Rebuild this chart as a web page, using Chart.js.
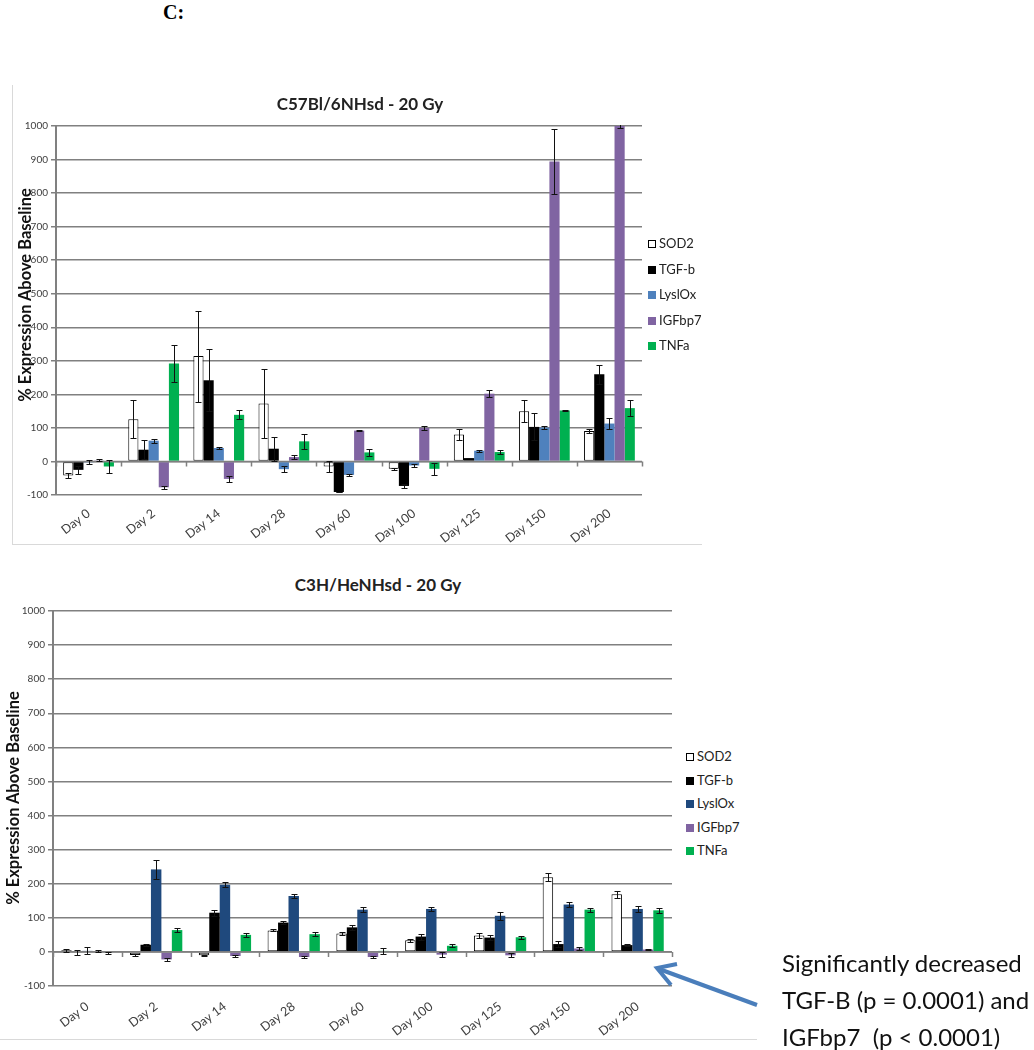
<!DOCTYPE html>
<html lang="en">
<head>
<meta charset="UTF-8">
<title>% Expression Above Baseline - 20 Gy</title>
<script src="https://cdn.jsdelivr.net/npm/chart.js"></script>
<style>
    body {
        margin: 0;
        width: 1034px;
        height: 1050px;
        position: relative;
        overflow: hidden;
        background: #fff;
        font-family: Lato, "Open Sans", sans-serif;
    }
    .abs { position: absolute; }
    #panel-label {
        left: 163px;
        top: 1px;
        font-family: "Liberation Serif", serif;
        font-weight: bold;
        font-size: 20px;
    }
    .frame-v { background: #d9d9d9; width: 1px; }
    .frame-h { background: #d9d9d9; height: 1px; }
    .chart-title {
        width: 340px;
        text-align: center;
        font-weight: bold;
        font-size: 17px;
        line-height: 20px;
        color: #222;
    }
    .y-title {
        white-space: nowrap;
        font-weight: bold;
        font-size: 16.5px;
        color: #111;
        transform: translate(-50%, -50%) rotate(-90deg);
    }
    .legend div {
        font-size: 13px;
        color: #222;
        white-space: nowrap;
    }
    .legend span {
        display: inline-block;
        width: 8px;
        height: 8px;
        margin-right: 3px;
        box-sizing: border-box;
    }
    #note {
        left: 782px;
        top: 944px;
        font-size: 24px;
        line-height: 37px;
        color: #111;
        white-space: nowrap;
    }
</style>
</head>
<body>
    <div id="panel-label" class="abs">C:</div>

    <!-- top chart -->
    <canvas id="c57Chart" class="abs" width="668" height="470" style="left:12px; top:84px;"></canvas>
    <div class="abs frame-v" style="left:12px; top:85px; height:460px;"></div>
    <div class="abs frame-h" style="left:12px; top:544px; width:690px;"></div>
    <div class="abs chart-title" style="left:190px; top:94px;">C57Bl/6NHsd - 20 Gy</div>
    <div class="abs y-title" style="left:25px; top:295px;">% Expression Above Baseline</div>
    <div id="c57Legend" class="abs legend" style="left:648px; top:231px;"></div>

    <!-- bottom chart -->
    <canvas id="c3hChart" class="abs" width="680" height="450" style="left:0px; top:600px;"></canvas>
    <div class="abs frame-h" style="left:0px; top:1039px; width:757px;"></div>
    <div class="abs chart-title" style="left:208px; top:575px;">C3H/HeNHsd - 20 Gy</div>
    <div class="abs y-title" style="left:13px; top:798px;">% Expression Above Baseline</div>
    <div id="c3hLegend" class="abs legend" style="left:686px; top:745px;"></div>

    <svg class="abs" width="1034" height="1050" style="left:0; top:0; pointer-events:none;">
        <line x1="757" y1="1005" x2="659" y2="969" stroke="#4a7ebb" stroke-width="4"/>
        <polyline points="677,964 657,968 671,985" fill="none" stroke="#4a7ebb" stroke-width="4"/>
    </svg>
    <div id="note" class="abs">Significantly decreased<br>TGF-B (p = 0.0001) and<br>IGFbp7&nbsp; (p &lt; 0.0001)</div>

    <script>
        // categories and series
        const days = ['Day 0', 'Day 2', 'Day 14', 'Day 28', 'Day 60', 'Day 100', 'Day 125', 'Day 150', 'Day 200'];
        const seriesNames = ['SOD2', 'TGF-b', 'LyslOx', 'IGFbp7', 'TNFa'];

        // C57Bl/6NHsd - values and error bars
        const c57Sod2 = [-42, 126, 314, 173, -15, -22, 80, 150, 91];
        const c57Sod2Err = [8, 56, 136, 103, 15, 3, 17, 32, 5];
        const c57Tgfb = [-25, 35, 242, 38, -91, -73, 10, 103, 260];
        const c57TgfbErr = [12, 28, 93, 36, 1, 5, 1, 40, 28];
        const c57Lysl = [-3, 62, 40, -23, -40, -12, 32, 101, 113];
        const c57LyslErr = [6, 6, 2, 8, 2, 4, 3, 5, 17];
        const c57Igf = [3, -77, -52, 13, 92, 100, 202, 894, 1000];
        const c57IgfErr = [3, 5, 8, 5, 2, 5, 11, 97, 5];
        const c57Tnf = [-15, 292, 139, 60, 27, -22, 28, 152, 159];
        const c57TnfErr = [18, 55, 13, 23, 10, 17, 6, 2, 23];

        // C3H/HeNHsd - values and error bars
        const c3hSod2 = [5, -9, -10, 63, 54, 34, 48, 219, 169];
        const c3hSod2Err = [5, 2, 1, 3, 5, 4, 8, 12, 10];
        const c3hTgfb = [-2, 21, 115, 86, 72, 45, 42, 23, 20];
        const c3hTgfbErr = [8, 3, 9, 5, 7, 9, 7, 8, 3];
        const c3hLysl = [3, 242, 197, 164, 124, 126, 106, 139, 126];
        const c3hLyslErr = [10, 28, 7, 5, 7, 7, 12, 6, 9];
        const c3hIgf = [2, -22, -12, -15, -15, -8, -10, 10, 7];
        const c3hIgfErr = [3, 4, 4, 4, 4, 7, 6, 4, 2];
        const c3hTnf = [-2, 64, 50, 52, 3, 18, 43, 124, 122];
        const c3hTnfErr = [3, 7, 5, 5, 8, 5, 5, 6, 8];

        const yMin = -100, yMax = 1000, yStep = 100;

        const c57Colors = ['#ffffff', '#000000', '#4f81bd', '#8064a2', '#00b050'];
        const c3hColors = ['#ffffff', '#000000', '#1f497d', '#8064a2', '#00b050'];

        const gridColor = '#808080';

        // zero line with tick marks between the categories (Excel style axis crossing at 0)
        const zeroAxis = {
            id: 'zeroAxis',
            afterDatasetsDraw(chart) {
                const ctx = chart.ctx;
                const x = chart.scales.x, y = chart.scales.y;
                const y0 = y.getPixelForValue(0);
                const step = (x.right - x.left) / chart.data.labels.length;
                ctx.save();
                ctx.strokeStyle = gridColor;
                ctx.lineWidth = 1.5;
                ctx.beginPath();
                ctx.moveTo(x.left, y0);
                ctx.lineTo(x.right, y0);
                for (let i = 0; i <= chart.data.labels.length; i++) {
                    const px = Math.round(x.left + i * step) + 0.5;
                    ctx.moveTo(px, y0);
                    ctx.lineTo(px, y0 + 5);
                }
                ctx.stroke();
                ctx.restore();
            }
        };

        // error bars from each dataset's errors array
        const errorBars = {
            id: 'errorBars',
            afterDatasetsDraw(chart) {
                const ctx = chart.ctx, y = chart.scales.y, area = chart.chartArea;
                ctx.save();
                ctx.beginPath();
                ctx.rect(area.left, area.top - 1, area.right - area.left, area.bottom - area.top + 2);
                ctx.clip();
                ctx.strokeStyle = '#111';
                ctx.lineWidth = 1;
                chart.data.datasets.forEach((ds, di) => {
                    chart.getDatasetMeta(di).data.forEach((bar, i) => {
                        const v = ds.data[i], e = ds.errors[i];
                        const top = Math.round(y.getPixelForValue(v + e)) + 0.5;
                        const bot = Math.round(y.getPixelForValue(v - e)) + 0.5;
                        const bx = Math.round(bar.x) + 0.5;
                        ctx.beginPath();
                        ctx.moveTo(bx, top); ctx.lineTo(bx, bot);
                        ctx.moveTo(bx - 3, top); ctx.lineTo(bx + 3, top);
                        ctx.moveTo(bx - 3, bot); ctx.lineTo(bx + 3, bot);
                        ctx.stroke();
                    });
                });
                ctx.restore();
            }
        };

        function makeChart(canvasId, legendId, values, errors, colors, box) {
            const datasets = seriesNames.map((name, i) => ({
                label: name,
                data: values[i],
                errors: errors[i],
                backgroundColor: colors[i],
                borderColor: i === 0 ? '#000' : colors[i],
                borderWidth: i === 0 ? 1 : 0,
                borderSkipped: false,
                categoryPercentage: box.catPct,
                barPercentage: 1
            }));

            new Chart(document.getElementById(canvasId), {
                type: 'bar',
                data: { labels: days, datasets: datasets },
                options: {
                    responsive: false,
                    animation: false,
                    layout: { padding: box.padding },
                    plugins: {
                        legend: { display: false },
                        tooltip: { enabled: false }
                    },
                    scales: {
                        x: {
                            grid: { display: false, drawTicks: false },
                            border: { display: false },
                            ticks: {
                                minRotation: 37,
                                maxRotation: 37,
                                padding: box.xPad,
                                color: '#404040',
                                font: { family: 'Lato', size: 12.5 }
                            },
                            afterFit(scale) { scale.height = box.xHeight; }
                        },
                        y: {
                            min: yMin,
                            max: yMax,
                            ticks: {
                                stepSize: yStep,
                                padding: 3,
                                color: '#404040',
                                font: { family: 'Lato', size: 10 },
                                callback: v => String(v)
                            },
                            grid: { color: gridColor, lineWidth: 1.5, tickLength: 5 },
                            border: { color: gridColor, width: 2 },
                            afterFit(scale) { scale.width = box.yWidth; }
                        }
                    }
                },
                plugins: [zeroAxis, errorBars]
            });

            // legend built from the same series
            const legend = document.getElementById(legendId);
            seriesNames.forEach((name, i) => {
                const row = document.createElement('div');
                row.style.height = box.legendStep + 'px';
                row.style.lineHeight = box.legendStep + 'px';
                const sw = document.createElement('span');
                sw.style.background = colors[i];
                if (i === 0) sw.style.border = '1px solid #000';
                row.appendChild(sw);
                row.appendChild(document.createTextNode(name));
                legend.appendChild(row);
            });
        }

        makeChart('c57Chart', 'c57Legend',
            [c57Sod2, c57Tgfb, c57Lysl, c57Igf, c57Tnf],
            [c57Sod2Err, c57TgfbErr, c57LyslErr, c57IgfErr, c57TnfErr],
            c57Colors,
            { padding: { left: 0, right: 38, top: 42, bottom: 0 }, yWidth: 44, xHeight: 59, xPad: 11, catPct: 0.78, legendStep: 25.5 });

        makeChart('c3hChart', 'c3hLegend',
            [c3hSod2, c3hTgfb, c3hLysl, c3hIgf, c3hTnf],
            [c3hSod2Err, c3hTgfbErr, c3hLyslErr, c3hIgfErr, c3hTnfErr],
            c3hColors,
            { padding: { left: 0, right: 8, top: 11, bottom: 0 }, yWidth: 53, xHeight: 64, xPad: 13, catPct: 0.76, legendStep: 23.5 });
    </script>
</body>
</html>
